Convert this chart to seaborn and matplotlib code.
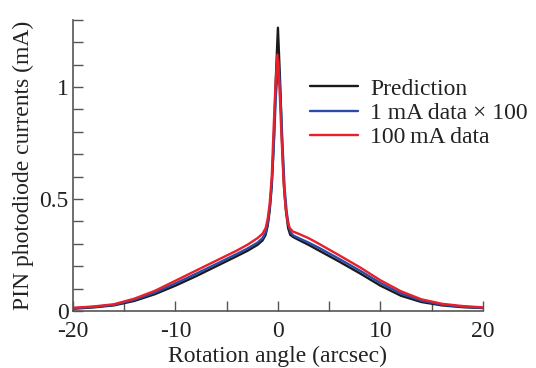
import matplotlib
matplotlib.use("Agg")
import matplotlib.pyplot as plt
import seaborn as sns
import pandas as pd
from matplotlib.ticker import MultipleLocator, FuncFormatter

# ---- data ----
pred_x = [-20, -18, -16, -14, -12, -10, -8, -6, -4, -3, -2, -1.5, -1.2, -1.0, -0.8, -0.6, -0.4, -0.2, 0,
          0.2, 0.4, 0.6, 0.8, 1.0, 1.2, 1.5, 2, 3, 4, 6, 8, 10, 12, 14, 16, 18, 20]
pred_y = [0.010, 0.016, 0.025, 0.045, 0.075, 0.113, 0.155, 0.200, 0.245, 0.268, 0.295, 0.315, 0.340, 0.380,
          0.450, 0.560, 0.760, 1.040, 1.265,
          1.040, 0.760, 0.550, 0.440, 0.370, 0.340, 0.330, 0.318, 0.295, 0.270, 0.220, 0.168, 0.113,
          0.068, 0.040, 0.025, 0.017, 0.013]

low_x = [-20, -18, -16, -14, -12, -10, -8, -6, -4, -3, -2, -1.5, -1.2, -1.0, -0.8, -0.6, -0.4, -0.2, 0.05,
         0.25, 0.45, 0.65, 0.85, 1.05, 1.25, 1.5, 2, 3, 4, 6, 8, 10, 12, 14, 16, 18, 20]
low_y = [0.012, 0.018, 0.027, 0.050, 0.082, 0.123, 0.166, 0.210, 0.255, 0.278, 0.305, 0.325, 0.350, 0.390,
         0.460, 0.570, 0.740, 0.960, 1.120,
         0.960, 0.740, 0.550, 0.445, 0.380, 0.350, 0.337, 0.326, 0.305, 0.282, 0.232, 0.180, 0.125,
         0.078, 0.046, 0.028, 0.019, 0.014]

high_x = [-20, -18, -16, -14, -12, -10, -8, -6, -4, -3, -2, -1.5, -1.2, -1.0, -0.8, -0.6, -0.45, -0.25, -0.05,
          0.15, 0.35, 0.55, 0.75, 0.95, 1.15, 1.45, 2, 3, 4, 6, 8, 10, 12, 14, 16, 18, 20]
high_y = [0.014, 0.020, 0.030, 0.055, 0.090, 0.135, 0.180, 0.225, 0.270, 0.295, 0.325, 0.345, 0.370, 0.410,
          0.480, 0.600, 0.780, 1.000, 1.145,
          1.000, 0.780, 0.580, 0.460, 0.400, 0.370, 0.355, 0.345, 0.325, 0.300, 0.248, 0.195, 0.137,
          0.088, 0.052, 0.032, 0.022, 0.016]

labels = ["Prediction", "1 mA data \u00d7 100", "100\u2009mA data"]
colors = ["#1a1a1a", "#2a4aa8", "#e8202a"]

# ---- style ----
sns.set_theme(style="ticks")
plt.rcParams["font.family"] = ["Liberation Serif", "DejaVu Serif"]
plt.rcParams["axes.unicode_minus"] = False

FS = 17
fig = plt.figure(figsize=(5.36, 3.68), dpi=100)
ax = fig.add_axes([0.136, 0.155, 0.765, 0.791])

series = [(pred_x, pred_y), (low_x, low_y), (high_x, high_y)]
for (xs, ys), lab, col in zip(series, labels, colors):
    df = pd.DataFrame({"x": xs, "y": ys})
    sns.lineplot(data=df, x="x", y="y", ax=ax, color=col, label=lab, lw=1.7,
                 sort=False, estimator=None)

ax.set_xlim(-20, 20)
ax.set_ylim(0, 1.3)
ax.xaxis.set_major_locator(MultipleLocator(10))
ax.xaxis.set_minor_locator(MultipleLocator(5))
ax.yaxis.set_major_locator(MultipleLocator(0.5))
ax.yaxis.set_minor_locator(MultipleLocator(0.1))
ax.yaxis.set_major_formatter(FuncFormatter(lambda v, p: f"{v:g}"))
ax.tick_params(which="both", direction="in", color="#555555", width=1.0, labelsize=FS,
               labelcolor="#222222")
ax.tick_params(axis="x", which="major", length=7, pad=7)
ax.tick_params(axis="y", which="major", length=7, pad=3)
ax.tick_params(which="minor", length=7)
for s in ["top", "right"]:
    ax.spines[s].set_visible(False)
for s in ["left", "bottom"]:
    ax.spines[s].set_color("#555555")
    ax.spines[s].set_linewidth(1.2)

ax.set_xlabel("Rotation angle (arcsec)", fontsize=FS, color="#222222", labelpad=3)
ax.set_ylabel("PIN photodiode currents (mA)", fontsize=FS, color="#222222", labelpad=4)

leg = ax.legend(loc="upper left", bbox_to_anchor=(0.578, 0.80), frameon=False, fontsize=FS,
                handlelength=2.05, handletextpad=0.5, labelspacing=0.12, borderaxespad=0,
                borderpad=0)
for t in leg.get_texts():
    t.set_color("#222222")

fig.savefig("out.png", dpi=100)
